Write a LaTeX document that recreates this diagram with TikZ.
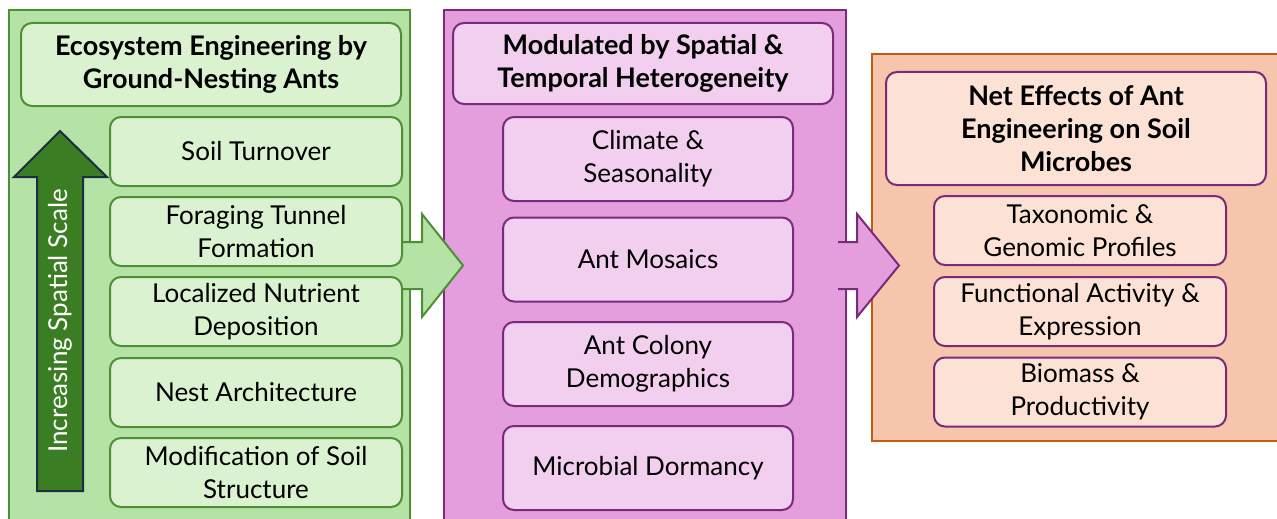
\documentclass[tikz,border=0pt]{standalone}
\usepackage{fontspec}
\setmainfont{Lato}
\definecolor{gpanel}{HTML}{B5E3A6}
\definecolor{gline}{HTML}{4E8F35}
\definecolor{gbox}{HTML}{DAF2D0}
\definecolor{garrow}{HTML}{3B7D23}
\definecolor{navy}{HTML}{1B2E45}
\definecolor{ppanel}{HTML}{E49EDD}
\definecolor{pline}{HTML}{7B2A7B}
\definecolor{pbox}{HTML}{F2CEEF}
\definecolor{opanel}{HTML}{F5C6AB}
\definecolor{oline}{HTML}{C55A11}
\definecolor{obox}{HTML}{FBE2D5}
\begin{document}
\begin{tikzpicture}[x=1pt,y=-1pt,
  panel/.style={line width=2pt},
  boxbase/.style={line width=2pt, rounded corners=11pt, inner sep=0pt, align=center},
  itemtext/.style={font=\fontsize{26}{33}\selectfont},
  titletext/.style={font=\bfseries\fontsize{27}{33}\selectfont},
  gitem/.style={boxbase, itemtext, draw=gline, fill=gbox, minimum width=292pt, minimum height=69pt},
  pitem/.style={boxbase, itemtext, draw=pline, fill=pbox, minimum width=290pt, minimum height=84pt},
  oitem/.style={boxbase, itemtext, draw=pline, fill=obox, minimum width=292pt, minimum height=69pt},
]
\clip (0,0) rectangle (1277,519);
% panels
\draw[panel, draw=gline, fill=gpanel] (9,10) rectangle (410,540);
\draw[panel, draw=pline, fill=ppanel] (444,10) rectangle (846,540);
\draw[panel, draw=oline, fill=opanel] (872,54) rectangle (1290,441);
% block arrows between panels
\draw[line width=2pt, draw=gline, fill=gpanel, line join=miter]
  (402,242) -- (422,242) -- (422,214) -- (463,265.5) -- (422,317) -- (422,289) -- (402,289);
\draw[line width=2pt, draw=pline, fill=ppanel, line join=miter]
  (838,242) -- (857,242) -- (857,214) -- (899,265.5) -- (857,317) -- (857,289) -- (838,289);
% vertical scale arrow
\draw[line width=2pt, draw=navy, fill=garrow, line join=miter]
  (37,491) -- (37,177) -- (14,177) -- (60,131) -- (107,177) -- (83,177) -- (83,491) -- cycle;
\node[rotate=90, text=white, itemtext, inner sep=0pt] (scale) at (60,321) {Increasing Spatial Scale};
% left column
\node[boxbase, titletext, draw=gline, fill=gbox, minimum width=380pt, minimum height=83pt] (gtitle) at (211,64.5) {Ecosystem Engineering by\\Ground-Nesting Ants};
\node[gitem] (g1) at (256,151.5) {Soil Turnover};
\node[gitem] (g2) at (256,231.5) {Foraging Tunnel\\Formation};
\node[gitem] (g3) at (256,311.5) {Localized Nutrient\\Deposition};
\node[gitem] (g4) at (256,392.5) {Nest Architecture};
\node[gitem] (g5) at (256,472.5) {Modification of Soil\\Structure};
% middle column
\node[boxbase, titletext, draw=pline, fill=pbox, minimum width=380pt, minimum height=81pt] (ptitle) at (643,63.5) {Modulated by Spatial \&\\Temporal Heterogeneity};
\node[pitem] (p1) at (648,159) {Climate \&\\Seasonality};
\node[pitem] (p2) at (648,259.5) {Ant Mosaics};
\node[pitem] (p3) at (648,364) {Ant Colony\\Demographics};
\node[pitem] (p4) at (648,468) {Microbial Dormancy};
% right column
\node[boxbase, titletext, draw=pline, fill=obox, minimum width=380pt, minimum height=113pt] (otitle) at (1076,128.5) {Net Effects of Ant\\Engineering on Soil\\Microbes};
\node[oitem] (o1) at (1080,230.5) {Taxonomic \&\\Genomic Profiles};
\node[oitem] (o2) at (1080,311.5) {Functional Activity \&\\Expression};
\node[oitem] (o3) at (1080,392) {Biomass \&\\Productivity};
\end{tikzpicture}
\end{document}
